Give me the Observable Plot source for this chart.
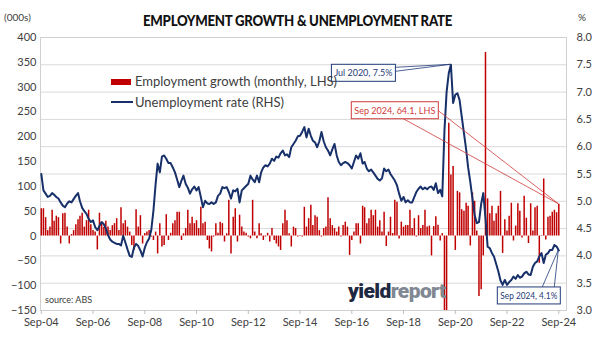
<!DOCTYPE html>
<html><head><meta charset="utf-8">
<script src="https://cdn.jsdelivr.net/npm/d3@7"></script>
<script src="https://cdn.jsdelivr.net/npm/@observablehq/plot@0.6"></script>
<style>
body{margin:0;background:#fff;}
#wrap{position:relative;width:610px;height:345px;font-family:Lato,"Open Sans",sans-serif;color:#404040;overflow:hidden;}
#wrap svg{position:absolute;left:0;top:0;}
.abs{position:absolute;white-space:nowrap;line-height:1;}
</style></head><body><div id="wrap"></div>
<script>
// ---- data (monthly, Sep 2004 .. Sep 2024) ----
const startYear = 2004, startMonth = 8; // Sep 2004
const empGrowth = [
  55, 55, 37, 11, 18, 52, 30, 40, 37, -16, 45, 46,
  18, -16, 3, 11, 23, 33, 40, 46, 18, 31, 52, 23,
  11, 8, -28, 46, 25, 17, 30, 18, 11, 21, 25, 35,
  11, 57, 25, 31, 18, 8, -19, -29, 53, 18, 41, -16,
  5, 8, 11, -2, -9, 8, -36, 25, -22, -19, 43, -9,
  5.5, 25, 31, 48, 48, -9, 4.5, 15, 52, 25, 38, 25,
  31, 15, 58, 25, 28, -9, -26, -32, -2, 25, 5.5, 28,
  25, -12, 4.5, 72, -36, 38, 55, -12, 42, 18, 8, 5.5,
  -2, -5.5, 72, 8, -5.5, 25, 4.5, -9, -2, 5.5, -12, 15,
  -9, -16, -22, -29, 25, 52, 31, 4.5, -22, 18, 15, -2,
  1, -2, 58, 18, 35, 62, 21, 41, 38, 11, -2, 15,
  18, 77, 35, 21, 15, 8, 18, -2, 21, 28, 18, -39,
  -9, 8, 25, 25, -16, 60, 57, 25, 35, 52, 41, 52,
  18, 31, 8, 48, -21, 8, 38, 5, 72, 68, -6, 28,
  18, 21, 21, 52, 15, 35, -2, 41, 15, 21, 52, 18,
  20, -40, 19, 39, 22, -10, 5, -600, -250, 227, 123, 140,
  -29, 90, 87, 53, 50, 66, 60, -20, 87, 70, 10, -122,
  -108, -40, 370, 75, 45, 60, 30, 45, 60, 90, -35, 33,
  10, 40, 66, -10, 20, 65, 50, -4, 80, 36, -15, 65,
  10, 57, 60, -55, 1, 115, -8, 38, 40, 48, 52, 47,
  64.1
];
const unempRate = [
  5.50, 5.20, 5.14, 5.08, 5.10, 5.15, 5.12, 5.08, 5.05, 4.98, 4.92, 4.89,
  4.96, 5.00, 4.98, 5.04, 5.10, 5.15, 5.00, 4.88, 4.82, 4.77, 4.68, 4.62,
  4.65, 4.53, 4.47, 4.55, 4.62, 4.58, 4.50, 4.38, 4.30, 4.26, 4.24, 4.22,
  4.22, 4.19, 4.37, 4.25, 4.12, 4.00, 3.98, 4.15, 4.22, 4.18, 4.10, 3.99,
  4.15, 4.25, 4.32, 4.47, 4.83, 5.32, 5.69, 5.53, 5.82, 5.84, 5.78, 5.70,
  5.70, 5.62, 5.53, 5.40, 5.26, 5.38, 5.47, 5.32, 5.25, 5.14, 5.22, 5.27,
  5.20, 5.26, 5.08, 4.89, 5.01, 4.96, 4.95, 4.98, 4.95, 4.98, 5.10, 5.14,
  5.26, 5.24, 5.26, 5.17, 5.05, 5.20, 5.18, 5.23, 4.98, 5.20, 5.24, 5.28,
  5.32, 5.47, 5.40, 5.35, 5.47, 5.35, 5.53, 5.62, 5.66, 5.64, 5.69, 5.78,
  5.74, 5.82, 5.80, 5.88, 5.93, 5.84, 5.86, 5.81, 5.99, 6.05, 6.11, 6.19,
  6.20, 6.27, 6.36, 6.17, 6.33, 6.20, 6.11, 6.08, 5.99, 6.10, 6.27, 6.10,
  5.99, 5.93, 5.84, 5.95, 6.05, 5.84, 5.72, 5.66, 5.70, 5.72, 5.70, 5.66,
  5.60, 5.72, 5.84, 5.78, 5.88, 5.69, 5.72, 5.60, 5.55, 5.58, 5.53, 5.47,
  5.41, 5.38, 5.42, 5.60, 5.55, 5.58, 5.50, 5.44, 5.38, 5.29, 5.14, 5.01,
  5.08, 4.98, 5.02, 4.98, 4.98, 5.08, 5.17, 5.23, 5.27, 5.22, 5.25, 5.22,
  5.26, 5.27, 5.21, 5.33, 5.15, 5.21, 5.09, 6.30, 7.00, 7.35, 7.50, 6.80,
  6.95, 6.98, 6.85, 6.55, 6.25, 5.95, 5.62, 5.35, 5.05, 4.75, 4.60, 4.62,
  4.95, 5.15, 4.70, 4.17, 4.14, 4.05, 3.99, 3.85, 3.72, 3.55, 3.47, 3.56,
  3.47, 3.52, 3.56, 3.62, 3.58, 3.65, 3.60, 3.62, 3.68, 3.71, 3.66, 3.65,
  3.80, 3.87, 3.90, 3.99, 4.05, 3.87, 4.02, 4.05, 4.11, 4.11, 4.20, 4.17,
  4.10
];
const xTickLabels = ["Sep-04","Sep-06","Sep-08","Sep-10","Sep-12","Sep-14","Sep-16","Sep-18","Sep-20","Sep-22","Sep-24"];
const leftTicks = [-150,-100,-50,0,50,100,150,200,250,300,350,400];
const rightTicks = [3.0,3.5,4.0,4.5,5.0,5.5,6.0,6.5,7.0,7.5,8.0];
const gridRates = [3.5,4.0,4.5,5.0,5.5,6.0,6.5,7.0,7.5];
const legendLabels = ["Employment growth (monthly, LHS)", "Unemployment rate (RHS)"];
const title = "EMPLOYMENT GROWTH &amp; UNEMPLOYMENT RATE";

// ---- build table ----
const months = d3.utcMonth.range(new Date(Date.UTC(startYear, startMonth, 1)), new Date(Date.UTC(2024, 9, 1)));
const data = months.map((date, i) => ({date, emp: empGrowth[i], rate: unempRate[i]}));
const xTickDates = xTickLabels.map((_, i) => new Date(Date.UTC(startYear + 2 * i, startMonth, 1)));

// right axis (%) mapped onto left axis units
const L0 = -150, L1 = 400, R0 = 3, R1 = 8;
const toLeft = r => L0 + (r - R0) * (L1 - L0) / (R1 - R0);
const fromLeft = v => R0 + (v - L0) * (R1 - R0) / (L1 - L0);

// x domain so first/last months sit slightly inside the frame
const W = 610, H = 345, mL = 40, mR = 44, mT = 37, mB = 35;
const p0 = 40.8, p1 = 558.3;
const t0 = +months[0], t1 = +months[months.length - 1];
const k = (t1 - t0) / (p1 - p0);
const xDomain = [new Date(t0 - (p0 - mL) * k), new Date(t1 + ((W - mR) - p1) * k)];

const chart = Plot.plot({
  width: W, height: H,
  marginTop: mT, marginBottom: mB, marginLeft: mL, marginRight: mR,
  style: {fontFamily: "Lato, 'Open Sans', sans-serif", fontSize: "11px", color: "#404040", background: "transparent", overflow: "visible"},
  x: {type: "utc", domain: xDomain, axis: null},
  y: {domain: [L0, L1], axis: null},
  marks: [
    Plot.ruleY(gridRates.map(toLeft), {stroke: "#d9d9d9", strokeWidth: 1}),
    Plot.frame({stroke: "#d0d0d0"}),
    Plot.ruleX(data, {x: "date", y1: 0, y2: "emp", stroke: "#c00000", strokeWidth: 1.5, clip: true}),
    Plot.line(data, {x: "date", y: d => toLeft(d.rate), stroke: "#17306a", strokeWidth: 2}),
    Plot.axisY(leftTicks, {anchor: "left", tickSize: 0, tickPadding: 4, label: null, fill: "#404040"}),
    Plot.axisY(rightTicks.map(toLeft), {anchor: "right", tickSize: 0, tickPadding: 10, label: null, fill: "#404040",
      tickFormat: v => fromLeft(v).toFixed(1)}),
    Plot.axisX(xTickDates, {anchor: "bottom", tickSize: 4, tickPadding: 4, label: null, stroke: "#bfbfbf", fill: "#404040",
      tickFormat: d => xTickLabels[xTickDates.findIndex(t => +t === +d)]})
  ]
});

const wrap = document.getElementById("wrap");
wrap.appendChild(chart);

// ---- callouts (target points come from the data via the scales) ----
const sx = chart.scale("x"), sy = chart.scale("y");
const last = data[data.length - 1];
const peak = data.reduce((a, b) => (b.rate > a.rate ? b : a));
const fmtMon = d3.utcFormat("%b %Y");
const callouts = [
  {text: `${fmtMon(peak.date)}, ${peak.rate.toFixed(1)}%`, x: peak.date, y: toLeft(peak.rate), color: "#1f3a78",
   box: [-119, 0], w: 64, h: 17, legs: [[64, 3], [64, 7]]},
  {text: `${fmtMon(last.date)}, ${last.emp.toFixed(1)}, LHS`, x: last.date, y: last.emp, color: "#d03a3a",
   box: [-207, -102], w: 87, h: 17, legs: [[52, 17], [87, 9]]},
  {text: `${fmtMon(last.date)}, ${last.rate.toFixed(1)}%`, x: last.date, y: toLeft(last.rate), color: "#1f3a78",
   box: [-61, 37], w: 63, h: 17, legs: [[45, 0], [57, 0]]}
];
const svg = d3.select(chart);
for (const c of callouts) {
  const tx = sx.apply(c.x), ty = sy.apply(c.y);
  const bx = tx + c.box[0], by = ty + c.box[1];
  const g = svg.append("g");
  for (const [lx, ly] of c.legs) {
    g.append("line").attr("x1", bx + lx).attr("y1", by + ly).attr("x2", tx).attr("y2", ty)
      .attr("stroke", c.color).attr("stroke-width", 0.8);
  }
  g.append("rect").attr("x", bx).attr("y", by).attr("width", c.w).attr("height", c.h)
    .attr("fill", "#fff").attr("stroke", c.color).attr("stroke-width", 1);
  const t = g.append("text").attr("x", bx + c.w / 2).attr("y", by + c.h / 2).attr("dy", "0.35em")
    .attr("text-anchor", "middle").attr("fill", c.color).attr("font-size", 10).text(c.text);
  const len = t.node().getComputedTextLength();
  if (len > c.w - 6) t.attr("textLength", c.w - 6).attr("lengthAdjust", "spacingAndGlyphs");
}

// ---- HTML text: title, units, legend, source, logo ----
function add(html, css) { const d = document.createElement("div"); d.className = "abs"; d.innerHTML = html; Object.assign(d.style, css); wrap.appendChild(d); return d; }
add(title, {left: "0px", width: "595px", textAlign: "center", top: "13px", fontWeight: "900", fontSize: "15px", color: "#111",
  letterSpacing: "-0.3px", transform: "scaleX(0.88)", transformOrigin: "297.5px 0"});
add("(000s)", {left: "4px", top: "12px", fontSize: "10px"});
add("%", {left: "578px", top: "12px", fontSize: "10px"});
// legend
add("", {left: "111px", top: "79px", width: "20px", height: "6px", background: "#c00000"});
add(legendLabels[0], {left: "135px", top: "75px", fontSize: "13px"});
add("", {left: "111px", top: "101px", width: "22px", height: "2px", background: "#17306a"});
add(legendLabels[1], {left: "135px", top: "96px", fontSize: "13px"});
add("source: ABS", {left: "45px", top: "295px", fontSize: "9px"});
add('<span style="color:#1e2840">yield</span><span style="color:#808894">report</span>',
  {left: "348px", top: "281px", fontSize: "21px", fontWeight: "900", letterSpacing: "-0.6px", fontFamily: "Roboto, Lato, sans-serif"});
</script></body></html>
